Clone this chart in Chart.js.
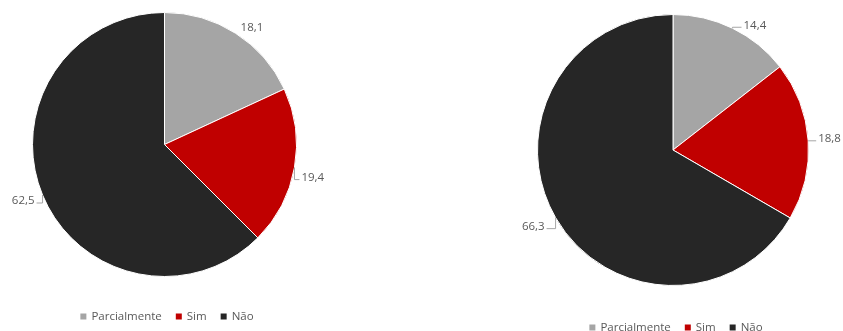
<!DOCTYPE html>
<html>
<head>
<meta charset="utf-8">
<script src="https://cdn.jsdelivr.net/npm/chart.js@4"></script>
<style>
  body { margin: 0; background: #fff; width: 843px; height: 331px; overflow: hidden; position: relative; }
  .wrap { position: absolute; top: 0; height: 331px; }
</style>
</head>
<body>
<div class="wrap" style="left:0;width:330px"><canvas id="pieA"></canvas></div>
<div class="wrap" style="left:500px;width:343px"><canvas id="pieB"></canvas></div>
<script>
// ── Data ───────────────────────────────────────────────────
const categories = ['Parcialmente', 'Sim', 'Não'];
const valuesA = [18.1, 19.4, 62.5];
const valuesB = [14.4, 18.8, 66.3];
const sliceColors = ['#a5a5a5', '#c00000', '#262626'];

const FONT = '11.5px "Open Sans", sans-serif';
const TEXT = '#595959';

// ── Outside labels with leader lines + legend ──────────────
const pieExtras = {
  id: 'pieExtras',
  afterDraw(chart, args, opts) {
    const ctx = chart.ctx;
    const arcs = chart.getDatasetMeta(0).data;
    const vals = chart.data.datasets[0].data;
    ctx.save();
    ctx.font = FONT;
    ctx.textBaseline = 'middle';
    ctx.lineWidth = 1;
    ctx.strokeStyle = '#a6a6a6';
    ctx.fillStyle = TEXT;

    arcs.forEach((arc, i) => {
      const mid = (arc.startAngle + arc.endAngle) / 2;
      const r = arc.outerRadius;
      const px = arc.x + Math.cos(mid) * r;
      const py = arc.y + Math.sin(mid) * r;
      const dir = Math.cos(mid) >= 0 ? 1 : -1;
      const n = opts.nudge[i];
      const tx = px + dir * 10 + n[0];
      const ty = py + n[1];
      const txt = vals[i].toFixed(1).replace('.', ',');
      ctx.textAlign = dir > 0 ? 'left' : 'right';
      const edge = tx - dir * 2;
      if (Math.hypot(edge - px, ty - py) > 7) {
        ctx.beginPath();
        ctx.moveTo(px, py);
        ctx.lineTo(px, ty + 2);
        ctx.lineTo(edge, ty + 2);
        ctx.stroke();
      }
      ctx.fillText(txt, tx, ty);
    });

    // legend
    const box = 6, gapText = 5, gapItem = 14;
    ctx.textAlign = 'left';
    const widths = chart.data.labels.map(l => ctx.measureText(l).width);
    const total = widths.reduce((s, w) => s + box + gapText + w, 0) + gapItem * (widths.length - 1);
    let x = opts.legendX - total / 2;
    const y = opts.legendY;
    chart.data.labels.forEach((l, i) => {
      ctx.fillStyle = sliceColors[i];
      ctx.fillRect(x, y - box / 2, box, box);
      x += box + gapText;
      ctx.fillStyle = TEXT;
      ctx.fillText(l, x, y);
      x += widths[i] + gapItem;
    });
    ctx.restore();
  }
};

function makePie(id, values, padding, extras) {
  return new Chart(document.getElementById(id), {
    type: 'pie',
    data: {
      labels: categories,
      datasets: [{
        data: values,
        backgroundColor: sliceColors,
        borderColor: '#ffffff',
        borderWidth: 1,
      }]
    },
    options: {
      responsive: true,
      maintainAspectRatio: false,
      animation: false,
      layout: { padding: padding },
      plugins: {
        legend: { display: false },
        tooltip: { enabled: false },
        pieExtras: extras
      }
    },
    plugins: [pieExtras]
  });
}

makePie('pieA', valuesA,
  { left: 32, top: 12, right: 33, bottom: 54 },
  { nudge: [[-5, -6], [-3, 10], [2, 6]], legendX: 167, legendY: 316.5 });

makePie('pieB', valuesB,
  { left: 37, top: 14, right: 34, bottom: 45 },
  { nudge: [[1, -3], [0, -2], [-1, 9]], legendX: 176, legendY: 327.5 });
</script>
</body>
</html>
